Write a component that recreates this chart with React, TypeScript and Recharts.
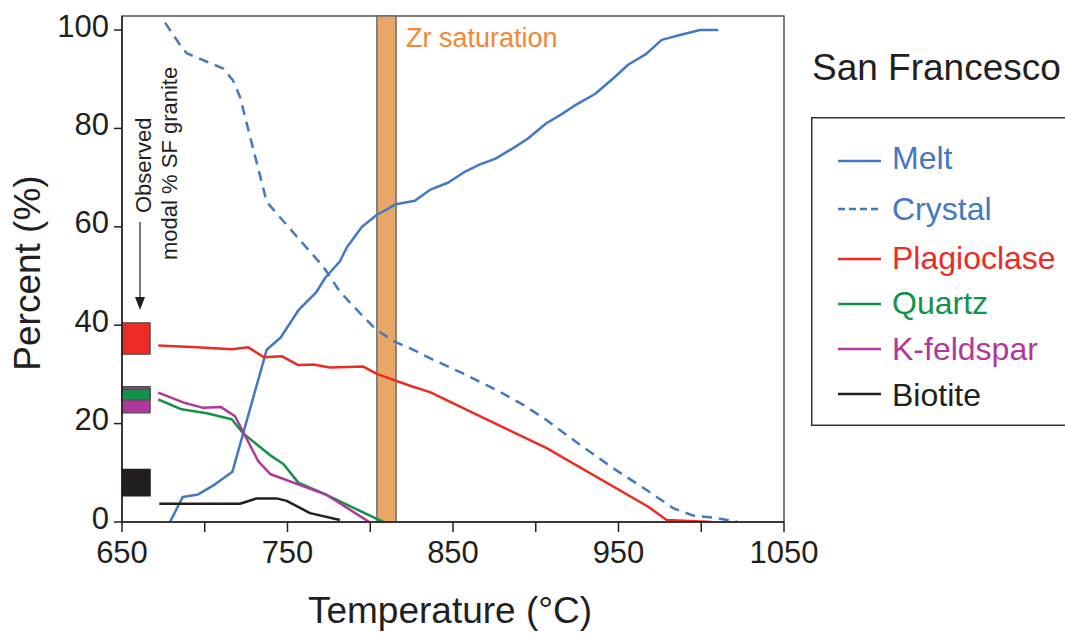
import React from 'react';
import {
  ComposedChart,
  Line,
  XAxis,
  YAxis,
  ReferenceArea,
  Legend,
} from 'recharts';

// ---------- data ----------
const meltT = [679, 686.7, 696, 706, 716.7, 737.4, 745.9, 756.5, 767.6, 772.7, 781.7, 785.8, 795, 803.9, 815.6, 827, 836, 847.2, 856.2, 866.3, 875.4, 886.4, 895.5, 906.2, 915.7, 924.7, 935.8, 946.9, 956, 966.6, 976.1, 987.2, 999.2, 1010.3];
const meltV = [0, 5.1, 5.6, 7.6, 10.2, 35, 37.5, 43, 46.8, 49.6, 53, 55.8, 60, 62.4, 64.6, 65.3, 67.5, 69, 71, 72.7, 73.8, 76, 78, 81, 82.9, 84.9, 87, 90.2, 93, 95.1, 98, 99, 100, 100];

const crystalT = [676, 685, 689, 701, 711, 717, 721.3, 737.4, 743.5, 757, 771.6, 781.7, 795, 803.9, 815, 826, 836, 856, 876.4, 892.5, 906.6, 926.7, 946.9, 967, 983.1, 995.2, 1007.3, 1021.4];
const crystalV = [101.5, 97, 95.3, 93.6, 92.2, 89.8, 86.4, 65.1, 62.7, 57.5, 51.9, 46.8, 42, 39, 36.6, 35, 33.3, 30.2, 26.8, 23.8, 20.7, 15.7, 10.9, 6.5, 2.8, 1.3, 0.9, 0.1];

const plagT = [671.9, 695.1, 716.3, 726.3, 735.8, 746.5, 756.5, 765.6, 775.7, 795.8, 804, 824, 836.1, 906.6, 968, 979.1, 1006.3];
const plagV = [35.9, 35.5, 35.1, 35.5, 33.5, 33.7, 31.9, 32.0, 31.4, 31.6, 30.1, 27.7, 26.4, 15, 3.1, 0.4, 0];

const quartzT = [671.9, 686.1, 701.2, 716.3, 723.3, 739.4, 747.5, 756.5, 771.6, 807.9];
const quartzV = [24.9, 22.9, 22.1, 20.9, 18, 13.6, 11.8, 8, 5.8, 0];

const kspT = [671.9, 687, 699.1, 709.6, 718.3, 732.4, 739.8, 773.7, 799.4];
const kspV = [26.3, 24.3, 23.2, 23.4, 21.5, 12.3, 9.7, 5.5, 0];

const biotiteT = [672.5, 721.3, 731.4, 743.5, 749.5, 763.6, 781.7];
const biotiteV = [3.7, 3.7, 4.8, 4.8, 4.3, 1.8, 0.4];

// observed modal % (box ranges) at the left edge
const observedNames = ['K-feldspar', 'Quartz', 'Plagioclase', 'Biotite'];
const observedLow = [22.2, 24.8, 34.1, 5.3];
const observedHigh = [27.5, 27.0, 40.5, 10.7];
const observedT = [650, 667];

const zrT = [804, 815.6];

const xTicks = [650, 700, 750, 800, 850, 900, 950, 1000, 1050];
const yTicks = [0, 20, 40, 60, 80, 100];

const seriesNames = ['Melt', 'Crystal', 'Plagioclase', 'Quartz', 'K-feldspar', 'Biotite'];

// ---------- styles ----------
const COLORS: Record<string, string> = {
  Melt: '#4378c3',
  Crystal: '#4378c3',
  Plagioclase: '#ee2a24',
  Quartz: '#12924a',
  'K-feldspar': '#b2379b',
  Biotite: '#231f20',
};
const DASH: Record<string, string | undefined> = { Crystal: '10 7' };
const LEGEND_DASH: Record<string, string | undefined> = { Crystal: '7 4' };
const TEXT = '#231f20';
const FONT = '"Liberation Sans", Arial, Helvetica, sans-serif';

const rows = (ts: number[], vs: number[]) => ts.map((t, i) => ({ t, v: vs[i] }));

const seriesData: Record<string, { t: number; v: number }[]> = {
  Melt: rows(meltT, meltV),
  Crystal: rows(crystalT, crystalV),
  Plagioclase: rows(plagT, plagV),
  Quartz: rows(quartzT, quartzV),
  'K-feldspar': rows(kspT, kspV),
  Biotite: rows(biotiteT, biotiteV),
};

const XTick = (props: any) => {
  const { x, y, payload } = props;
  const v = payload.value;
  return (
    <text x={x} y={y} dy={29} textAnchor="middle" fontSize={31} fill={TEXT} fontFamily={FONT}>
      {v % 100 === 50 ? String(v) : ''}
    </text>
  );
};

const YTick = (props: any) => {
  const { x, y, payload } = props;
  return (
    <text x={x} y={y} dy={6.5} textAnchor="end" fontSize={31} fill={TEXT} fontFamily={FONT}>
      {String(payload.value)}
    </text>
  );
};

const legendBaselines = [52, 103, 152, 197, 243, 289];
const legendLineYs = [44, 92, 142, 187, 232, 277];

const LegendBox = (props: any) => {
  const payload: any[] = (props.payload || []).slice();
  payload.sort((a: any, b: any) => seriesNames.indexOf(String(a.value)) - seriesNames.indexOf(String(b.value)));
  return (
    <svg width={256} height={310} style={{ display: 'block' }}>
      <rect x={0.75} y={0.75} width={262} height={307.5} fill="#fff" stroke="#333" strokeWidth={1.5} />
      {payload.map((p: any, i: number) => {
        const name = String(p.value);
        const c = COLORS[name] || p.color;
        return (
          <g key={name}>
            <line x1={27} x2={70} y1={legendLineYs[i]} y2={legendLineYs[i]} stroke={c} strokeWidth={2.5} strokeDasharray={LEGEND_DASH[name]} />
            <text x={81} y={legendBaselines[i]} fontSize={32} fill={c} fontFamily={FONT}>
              {name}
            </text>
          </g>
        );
      })}
    </svg>
  );
};

const ZrLabel = (props: any) => {
  const vb = props.viewBox || {};
  return (
    <text x={(vb.x || 0) + (vb.width || 0) + 10} y={(vb.y || 0) + 31} fontSize={27} fill="#f58634" fontFamily={FONT}>
      Zr saturation
    </text>
  );
};

const XLabel = (props: any) => {
  const vb = props.viewBox || {};
  return (
    <text x={(vb.x || 0) + (vb.width || 0) / 2 - 3} y={(vb.y || 0) + 101} textAnchor="middle" fontSize={37} fill={TEXT} fontFamily={FONT}>
      Temperature (°C)
    </text>
  );
};

const YLabel = (props: any) => {
  const vb = props.viewBox || {};
  const cx = 40;
  const cy = (vb.y || 0) + (vb.height || 0) / 2 + 4;
  return (
    <text x={cx} y={cy} transform={`rotate(-90 ${cx} ${cy})`} textAnchor="middle" fontSize={37} fill={TEXT} fontFamily={FONT}>
      Percent (%)
    </text>
  );
};

export default function App() {
  return (
    <div style={{ position: 'absolute', left: 0, top: 0, width: 1065, height: 634, overflow: 'hidden', background: '#fff', fontFamily: FONT }}>
      <ComposedChart width={1065} height={634} margin={{ top: 16, right: 281, bottom: 52, left: 42 }}>
        <XAxis
          dataKey="t"
          type="number"
          domain={[650, 1050]}
          ticks={xTicks}
          allowDataOverflow
          height={60}
          tickSize={10}
          tickMargin={2}
          tick={<XTick />}
          axisLine={{ stroke: TEXT, strokeWidth: 1.5 }}
          tickLine={{ stroke: TEXT, strokeWidth: 1.5 }}
          label={<XLabel />}
        />
        <YAxis
          type="number"
          domain={[0, 102.85]}
          ticks={yTicks}
          allowDataOverflow
          width={80}
          tickSize={8}
          tickMargin={5}
          tick={<YTick />}
          axisLine={{ stroke: TEXT, strokeWidth: 1.5 }}
          tickLine={{ stroke: TEXT, strokeWidth: 1.5 }}
          label={<YLabel />}
        />
        {/* plot frame */}
        <ReferenceArea x1={650} x2={1050} y1={0} y2={102.85} fill="none" stroke="#555" strokeWidth={1.5} ifOverflow="visible" />
        {/* Zr saturation band */}
        <ReferenceArea x1={zrT[0]} x2={zrT[1]} y1={0} y2={102.85} fill="#e8a766" fillOpacity={1} stroke="#6e6e6e" strokeWidth={1.5} label={<ZrLabel />} />
        {/* observed modal % boxes */}
        {observedNames.map((n, i) => (
          <ReferenceArea
            key={n}
            x1={observedT[0]}
            x2={observedT[1]}
            y1={observedLow[i]}
            y2={observedHigh[i]}
            fill={COLORS[n]}
            fillOpacity={1}
            stroke={n === 'Biotite' ? COLORS[n] : '#4a4a4a'}
            strokeWidth={1.2}
          />
        ))}
        {seriesNames.map((name) => (
          <Line
            key={name}
            name={name}
            data={seriesData[name]}
            dataKey="v"
            type="linear"
            stroke={COLORS[name]}
            strokeWidth={2.5}
            strokeDasharray={DASH[name]}
            dot={false}
            activeDot={false}
            isAnimationActive={false}
            strokeLinejoin="round"
          />
        ))}
        <Legend
          layout="vertical"
          align="center"
          verticalAlign="middle"
          content={<LegendBox />}
          wrapperStyle={{ position: 'absolute', left: 811, top: 117, width: 256, height: 310 }}
        />
      </ComposedChart>
      <svg width={1065} height={634} style={{ position: 'absolute', left: 0, top: 0, pointerEvents: 'none' }}>
        <text x={812} y={80} fontSize={37} fill={TEXT} fontFamily={FONT}>San Francesco</text>
        <text x={151} y={213} transform="rotate(-90 151 213)" fontSize={22} fill={TEXT} fontFamily={FONT}>Observed</text>
        <text x={177} y={260} transform="rotate(-90 177 260)" fontSize={22} fill={TEXT} fontFamily={FONT}>modal % SF granite</text>
        <line x1={140} x2={140} y1={222} y2={300} stroke={TEXT} strokeWidth={1.2} />
        <polygon points="135,297 145,297 140,310" fill={TEXT} />
      </svg>
    </div>
  );
}
